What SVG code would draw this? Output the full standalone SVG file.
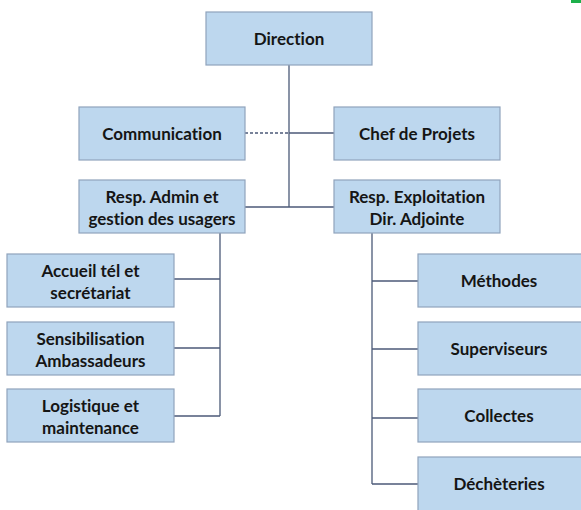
<svg xmlns="http://www.w3.org/2000/svg" width="581" height="510" viewBox="0 0 581 510">
<style>
.box{fill:#BDD7EE;stroke:#8FA3BC;stroke-width:1.2}
.t{font-family:Lato,"Liberation Sans",sans-serif;font-weight:bold;font-size:17px;fill:#151515;text-anchor:middle;font-variant-ligatures:none}
.ln{stroke:#4C5A78;stroke-width:1.3;fill:none}
</style>
<rect width="581" height="510" fill="#ffffff"/>
<rect x="571" y="0" width="10" height="3" fill="#1DB04B"/>
<g id="connectors">
<path class="ln" d="M289 65V207M245 207H334M289 133H334"/>
<path class="ln" d="M245 133H289" stroke-dasharray="3,2"/>
<path class="ln" d="M220 233V416M174 279H220M174 348H220M174 416H220"/>
<path class="ln" d="M372 233V484M372 281H418M372 349H418M372 418H418M372 484H418"/>
</g>
<g id="direction"><rect class="box" x="206" y="12" width="166" height="53"/><text class="t" x="289" y="45">Direction</text></g>
<g id="communication"><rect class="box" x="79" y="107" width="166" height="53"/><text class="t" x="162" y="139.5">Communication</text></g>
<g id="chef"><rect class="box" x="334" y="107" width="166" height="53"/><text class="t" x="417" y="139.5">Chef de Projets</text></g>
<g id="admin"><rect class="box" x="79" y="180" width="166" height="53"/><text class="t" x="162" y="202.5">Resp. Admin et</text><text class="t" x="162" y="224.5">gestion des usagers</text></g>
<g id="exploitation"><rect class="box" x="334" y="180" width="166" height="53"/><text class="t" x="417" y="202.5">Resp. Exploitation</text><text class="t" x="417" y="224.5">Dir. Adjointe</text></g>
<g id="accueil"><rect class="box" x="7" y="254" width="167" height="53"/><text class="t" x="90.5" y="276.5">Accueil tél et</text><text class="t" x="90.5" y="298.5">secrétariat</text></g>
<g id="sensibilisation"><rect class="box" x="7" y="322" width="167" height="53"/><text class="t" x="90.5" y="344.5">Sensibilisation</text><text class="t" x="90.5" y="366.5">Ambassadeurs</text></g>
<g id="logistique"><rect class="box" x="7" y="389" width="167" height="53"/><text class="t" x="90.5" y="411.5">Logistique et</text><text class="t" x="90.5" y="433.5">maintenance</text></g>
<g id="methodes"><rect class="box" x="418" y="254" width="170" height="53"/><text class="t" x="499" y="286.5">Méthodes</text></g>
<g id="superviseurs"><rect class="box" x="418" y="322" width="170" height="53"/><text class="t" x="499" y="354.5">Superviseurs</text></g>
<g id="collectes"><rect class="box" x="418" y="389" width="170" height="53"/><text class="t" x="499" y="421.5">Collectes</text></g>
<g id="decheteries"><rect class="box" x="418" y="457" width="170" height="60"/><text class="t" x="499" y="489.5">Déchèteries</text></g>
</svg>
